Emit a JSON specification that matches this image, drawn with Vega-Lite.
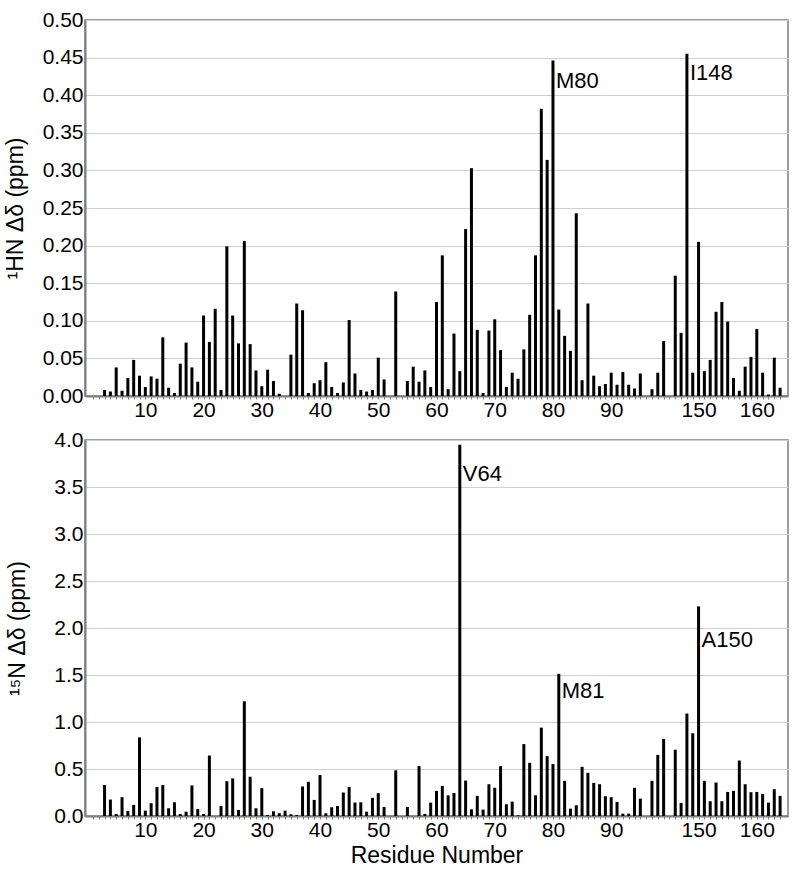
{
  "$schema": "https://vega.github.io/schema/vega-lite/v6.json",
  "padding": {"left": 3, "top": 8, "right": 8, "bottom": 5},
  "autosize": {"type": "pad"},
  "config": {
    "font": "Liberation Sans",
    "view": {"stroke": "#7f7f7f", "strokeWidth": 1.5},
    "axis": {
      "labelFont": "Liberation Sans", "labelFontSize": 21, "labelColor": "#000000",
      "titleFont": "Liberation Sans", "titleFontSize": 23, "titleFontWeight": "normal", "titleColor": "#000000",
      "domainColor": "#7f7f7f", "domainWidth": 2, "tickColor": "#7f7f7f",
      "gridColor": "#cfcfcf", "gridWidth": 1.2, "labelOverlap": false
    }
  },
  "datasets": {
    "hn": [
      {"i":3,"v":0.008},{"i":4,"v":0.006},{"i":5,"v":0.038},{"i":6,"v":0.007},{"i":7,"v":0.024},{"i":8,"v":0.048},{"i":9,"v":0.027},{"i":10,"v":0.012},
      {"i":11,"v":0.026},{"i":12,"v":0.023},{"i":13,"v":0.078},{"i":14,"v":0.011},{"i":15,"v":0.004},{"i":16,"v":0.043},{"i":17,"v":0.071},{"i":18,"v":0.038},
      {"i":19,"v":0.019},{"i":20,"v":0.107},{"i":21,"v":0.072},{"i":22,"v":0.116},{"i":23,"v":0.008},{"i":24,"v":0.199},{"i":25,"v":0.107},{"i":26,"v":0.070},
      {"i":27,"v":0.206},{"i":28,"v":0.069},{"i":29,"v":0.034},{"i":30,"v":0.013},{"i":31,"v":0.035},{"i":32,"v":0.020},{"i":33,"v":0.003},{"i":35,"v":0.055},
      {"i":36,"v":0.123},{"i":37,"v":0.114},{"i":38,"v":0.004},{"i":39,"v":0.017},{"i":40,"v":0.021},{"i":41,"v":0.045},{"i":42,"v":0.012},{"i":43,"v":0.004},
      {"i":44,"v":0.018},{"i":45,"v":0.101},{"i":46,"v":0.030},{"i":47,"v":0.008},{"i":48,"v":0.006},{"i":49,"v":0.008},{"i":50,"v":0.051},{"i":51,"v":0.022},
      {"i":53,"v":0.139},{"i":55,"v":0.020},{"i":56,"v":0.039},{"i":57,"v":0.019},{"i":58,"v":0.034},{"i":59,"v":0.012},{"i":60,"v":0.125},{"i":61,"v":0.187},
      {"i":62,"v":0.009},{"i":63,"v":0.083},{"i":64,"v":0.033},{"i":65,"v":0.222},{"i":66,"v":0.303},{"i":67,"v":0.088},{"i":68,"v":0.004},{"i":69,"v":0.087},
      {"i":70,"v":0.102},{"i":71,"v":0.061},{"i":72,"v":0.012},{"i":73,"v":0.031},{"i":74,"v":0.023},{"i":75,"v":0.062},{"i":76,"v":0.108},{"i":77,"v":0.187},
      {"i":78,"v":0.382},{"i":79,"v":0.314},{"i":80,"v":0.446},{"i":81,"v":0.115},{"i":82,"v":0.080},{"i":83,"v":0.060},{"i":84,"v":0.243},{"i":85,"v":0.021},
      {"i":86,"v":0.123},{"i":87,"v":0.027},{"i":88,"v":0.013},{"i":89,"v":0.016},{"i":90,"v":0.031},{"i":91,"v":0.015},{"i":92,"v":0.032},{"i":93,"v":0.015},
      {"i":94,"v":0.010},{"i":95,"v":0.030},{"i":97,"v":0.009},{"i":98,"v":0.031},{"i":99,"v":0.073},{"i":101,"v":0.160},{"i":102,"v":0.084},{"i":103,"v":0.455},
      {"i":104,"v":0.031},{"i":105,"v":0.205},{"i":106,"v":0.033},{"i":107,"v":0.048},{"i":108,"v":0.112},{"i":109,"v":0.125},{"i":110,"v":0.099},{"i":111,"v":0.024},
      {"i":112,"v":0.007},{"i":113,"v":0.039},{"i":114,"v":0.052},{"i":115,"v":0.089},{"i":116,"v":0.031},{"i":117,"v":0.002},{"i":118,"v":0.051},{"i":119,"v":0.011}
    ],
    "hnlab": [
      {"i":80,"v":0.410,"label":"M80"},
      {"i":103,"v":0.420,"label":"I148"}
    ],
    "n15": [
      {"i":3,"v":0.33},{"i":4,"v":0.175},{"i":5,"v":0.02},{"i":6,"v":0.20},{"i":7,"v":0.054},{"i":8,"v":0.118},{"i":9,"v":0.836},{"i":10,"v":0.057},
      {"i":11,"v":0.136},{"i":12,"v":0.31},{"i":13,"v":0.33},{"i":14,"v":0.082},{"i":15,"v":0.146},{"i":16,"v":0.02},{"i":17,"v":0.046},{"i":18,"v":0.325},
      {"i":19,"v":0.075},{"i":20,"v":0.02},{"i":21,"v":0.643},{"i":23,"v":0.107},{"i":24,"v":0.37},{"i":25,"v":0.40},{"i":26,"v":0.064},{"i":27,"v":1.22},
      {"i":28,"v":0.418},{"i":29,"v":0.082},{"i":30,"v":0.296},{"i":31,"v":0.01},{"i":32,"v":0.05},{"i":33,"v":0.03},{"i":34,"v":0.057},{"i":35,"v":0.018},
      {"i":36,"v":0.01},{"i":37,"v":0.314},{"i":38,"v":0.364},{"i":39,"v":0.171},{"i":40,"v":0.436},{"i":41,"v":0.029},{"i":42,"v":0.093},{"i":43,"v":0.107},
      {"i":44,"v":0.25},{"i":45,"v":0.31},{"i":46,"v":0.143},{"i":47,"v":0.146},{"i":48,"v":0.046},{"i":49,"v":0.193},{"i":50,"v":0.243},{"i":51,"v":0.096},
      {"i":53,"v":0.486},{"i":55,"v":0.096},{"i":57,"v":0.532},{"i":58,"v":0.022},{"i":59,"v":0.142},{"i":60,"v":0.267},{"i":61,"v":0.32},{"i":62,"v":0.22},
      {"i":63,"v":0.245},{"i":64,"v":3.95},{"i":65,"v":0.377},{"i":66,"v":0.071},{"i":67,"v":0.214},{"i":68,"v":0.068},{"i":69,"v":0.338},{"i":70,"v":0.30},
      {"i":71,"v":0.53},{"i":72,"v":0.125},{"i":73,"v":0.153},{"i":74,"v":0.007},{"i":75,"v":0.765},{"i":76,"v":0.566},{"i":77,"v":0.22},{"i":78,"v":0.94},
      {"i":79,"v":0.637},{"i":80,"v":0.552},{"i":81,"v":1.512},{"i":82,"v":0.374},{"i":83,"v":0.078},{"i":84,"v":0.114},{"i":85,"v":0.523},{"i":86,"v":0.459},
      {"i":87,"v":0.352},{"i":88,"v":0.338},{"i":89,"v":0.21},{"i":90,"v":0.20},{"i":91,"v":0.15},{"i":92,"v":0.025},{"i":93,"v":0.025},{"i":94,"v":0.30},
      {"i":95,"v":0.185},{"i":97,"v":0.374},{"i":98,"v":0.65},{"i":99,"v":0.82},{"i":101,"v":0.705},{"i":102,"v":0.139},{"i":103,"v":1.09},{"i":104,"v":0.88},
      {"i":105,"v":2.23},{"i":106,"v":0.374},{"i":107,"v":0.157},{"i":108,"v":0.356},{"i":109,"v":0.157},{"i":110,"v":0.256},{"i":111,"v":0.267},{"i":112,"v":0.59},
      {"i":113,"v":0.338},{"i":114,"v":0.253},{"i":115,"v":0.256},{"i":116,"v":0.235},{"i":117,"v":0.142},{"i":118,"v":0.285},{"i":119,"v":0.214}
    ],
    "n15lab": [
      {"i":64,"v":3.567,"label":"V64"},
      {"i":81,"v":1.255,"label":"M81"},
      {"i":105,"v":1.798,"label":"A150"}
    ]
  },
  "spacing": 7,
  "vconcat": [
    {
      "width": 703,
      "height": 376,
      "layer": [
        {
          "data": {"name": "hn"},
          "mark": {"type": "bar", "color": "#000000", "size": 3},
          "encoding": {
            "x": {"field": "i", "type": "quantitative",
              "scale": {"domain": [0.5, 119.5], "nice": false, "zero": false},
              "axis": {"title": null, "grid": false, "tickSize": 3, "labelPadding": 0, "labelOverlap": false, "labelFlush": false, "tickCount": 200,
                "values": [1,2,3,4,5,6,7,8,9,10,11,12,13,14,15,16,17,18,19,20,21,22,23,24,25,26,27,28,29,30,31,32,33,34,35,36,37,38,39,40,41,42,43,44,45,46,47,48,49,50,51,52,53,54,55,56,57,58,59,60,61,62,63,64,65,66,67,68,69,70,71,72,73,74,75,76,77,78,79,80,81,82,83,84,85,86,87,88,89,90,91,92,93,94,95,96,97,98,99,100,101,102,103,104,105,106,107,108,109,110,111,112,113,114,115,116,117,118,119],
                "labelExpr": "datum.value == 105 ? '150' : datum.value == 115 ? '160' : (datum.value % 10 == 0 && datum.value <= 90) ? '' + datum.value : ''"}},
            "y": {"field": "v", "type": "quantitative",
              "scale": {"domain": [0, 0.5], "nice": false},
              "axis": {"title": "¹HN Δδ (ppm)", "values": [0,0.05,0.1,0.15,0.2,0.25,0.3,0.35,0.4,0.45,0.5], "tickCount": 20, "format": ".2f", "tickSize": 0, "labelPadding": 2, "titlePadding": 15, "grid": true, "labelOverlap": false}}
          }
        },
        {
          "data": {"name": "hnlab"},
          "mark": {"type": "text", "align": "left", "baseline": "alphabetic", "dx": 3, "fontSize": 22, "font": "Liberation Sans", "color": "#000000"},
          "encoding": {
            "x": {"field": "i", "type": "quantitative"},
            "y": {"field": "v", "type": "quantitative"},
            "text": {"field": "label"}
          }
        }
      ]
    },
    {
      "width": 703,
      "height": 376,
      "layer": [
        {
          "data": {"name": "n15"},
          "mark": {"type": "bar", "color": "#000000", "size": 3},
          "encoding": {
            "x": {"field": "i", "type": "quantitative",
              "scale": {"domain": [0.5, 119.5], "nice": false, "zero": false},
              "axis": {"title": "Residue Number", "titlePadding": 4, "grid": false, "tickSize": 3, "labelPadding": 0, "labelOverlap": false, "labelFlush": false, "tickCount": 200,
                "values": [1,2,3,4,5,6,7,8,9,10,11,12,13,14,15,16,17,18,19,20,21,22,23,24,25,26,27,28,29,30,31,32,33,34,35,36,37,38,39,40,41,42,43,44,45,46,47,48,49,50,51,52,53,54,55,56,57,58,59,60,61,62,63,64,65,66,67,68,69,70,71,72,73,74,75,76,77,78,79,80,81,82,83,84,85,86,87,88,89,90,91,92,93,94,95,96,97,98,99,100,101,102,103,104,105,106,107,108,109,110,111,112,113,114,115,116,117,118,119],
                "labelExpr": "datum.value == 105 ? '150' : datum.value == 115 ? '160' : (datum.value % 10 == 0 && datum.value <= 90) ? '' + datum.value : ''"}},
            "y": {"field": "v", "type": "quantitative",
              "scale": {"domain": [0, 4], "nice": false},
              "axis": {"title": "¹⁵N Δδ (ppm)", "values": [0,0.5,1,1.5,2,2.5,3,3.5,4], "tickCount": 20, "format": ".1f", "tickSize": 0, "labelPadding": 2, "titlePadding": 24, "grid": true, "labelOverlap": false}}
          }
        },
        {
          "data": {"name": "n15lab"},
          "mark": {"type": "text", "align": "left", "baseline": "alphabetic", "dx": 3, "fontSize": 22, "font": "Liberation Sans", "color": "#000000"},
          "encoding": {
            "x": {"field": "i", "type": "quantitative"},
            "y": {"field": "v", "type": "quantitative"},
            "text": {"field": "label"}
          }
        }
      ]
    }
  ]
}
